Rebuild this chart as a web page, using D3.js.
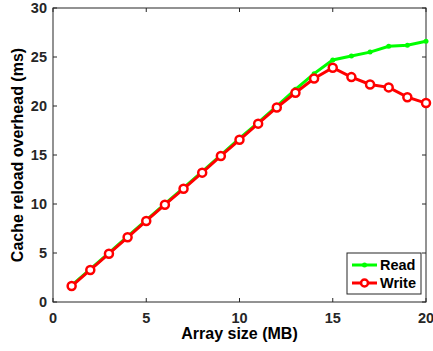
<!DOCTYPE html>
<html>
<head>
<meta charset="utf-8">
<script src="https://cdn.jsdelivr.net/npm/d3@7"></script>
<style>
  body { margin: 0; background: #fff; }
  svg { display: block; font-family: "Liberation Sans", Arial, Helvetica, sans-serif; }
</style>
</head>
<body>
<div id="chart"></div>
<script>
const sizes = [1, 2, 3, 4, 5, 6, 7, 8, 9, 10, 11, 12, 13, 14, 15, 16, 17, 18, 19, 20];
const readValues = [1.7, 3.35, 5.0, 6.7, 8.35, 10.0, 11.65, 13.3, 15.0, 16.7, 18.3, 20.0, 21.7, 23.3, 24.7, 25.1, 25.5, 26.1, 26.2, 26.6];
const writeValues = [1.63, 3.27, 4.93, 6.6, 8.27, 9.93, 11.55, 13.2, 14.9, 16.55, 18.2, 19.85, 21.35, 22.8, 23.9, 22.95, 22.2, 21.9, 20.9, 20.3];
const xTicks = [0, 5, 10, 15, 20];
const yTicks = [0, 5, 10, 15, 20, 25, 30];
const seriesNames = ['Read', 'Write'];

const width = 433;
const height = 351;
const margin = { top: 8, right: 7, bottom: 49, left: 53 };
const axisColor = '#262626';

const svg = d3.select('#chart')
  .append('svg')
  .attr('width', width)
  .attr('height', height);

const x = d3.scaleLinear()
  .domain([0, 20])
  .range([margin.left, width - margin.right]);

const y = d3.scaleLinear()
  .domain([0, 30])
  .range([height - margin.bottom, margin.top]);

// box + ticks on all four sides
svg.append('rect')
  .attr('x', x(0))
  .attr('y', y(30))
  .attr('width', x(20) - x(0))
  .attr('height', y(0) - y(30))
  .attr('fill', 'none')
  .attr('stroke', axisColor)
  .attr('stroke-width', 1);

const tickLen = 4;
svg.append('g')
  .selectAll('line')
  .data(xTicks)
  .join('line')
  .attr('x1', d => x(d)).attr('x2', d => x(d))
  .attr('y1', y(0)).attr('y2', y(0) - tickLen)
  .attr('stroke', axisColor);
svg.append('g')
  .selectAll('line')
  .data(xTicks)
  .join('line')
  .attr('x1', d => x(d)).attr('x2', d => x(d))
  .attr('y1', y(30)).attr('y2', y(30) + tickLen)
  .attr('stroke', axisColor);
svg.append('g')
  .selectAll('line')
  .data(yTicks)
  .join('line')
  .attr('x1', x(0)).attr('x2', x(0) + tickLen)
  .attr('y1', d => y(d)).attr('y2', d => y(d))
  .attr('stroke', axisColor);
svg.append('g')
  .selectAll('line')
  .data(yTicks)
  .join('line')
  .attr('x1', x(20)).attr('x2', x(20) - tickLen)
  .attr('y1', d => y(d)).attr('y2', d => y(d))
  .attr('stroke', axisColor);

svg.append('g')
  .selectAll('text')
  .data(xTicks)
  .join('text')
  .attr('x', d => x(d))
  .attr('y', y(0) + 21)
  .attr('text-anchor', 'middle')
  .attr('fill', axisColor)
  .style('font-size', '14.5px')
  .style('font-weight', 'bold')
  .text(d => d);

svg.append('g')
  .selectAll('text')
  .data(yTicks)
  .join('text')
  .attr('x', x(0) - 6)
  .attr('y', d => y(d) + 5)
  .attr('text-anchor', 'end')
  .attr('fill', axisColor)
  .style('font-size', '14.5px')
  .style('font-weight', 'bold')
  .text(d => d);

svg.append('text')
  .attr('x', (x(0) + x(20)) / 2)
  .attr('y', 339)
  .attr('text-anchor', 'middle')
  .attr('fill', '#000')
  .style('font-size', '16px')
  .style('font-weight', 'bold')
  .text('Array size (MB)');

svg.append('text')
  .attr('transform', `translate(23, ${(y(0) + y(30)) / 2}) rotate(-90)`)
  .attr('text-anchor', 'middle')
  .attr('fill', '#000')
  .style('font-size', '16px')
  .style('font-weight', 'bold')
  .text('Cache reload overhead (ms)');

const readData = sizes.map((s, i) => ({ s, v: readValues[i] }));
const writeData = sizes.map((s, i) => ({ s, v: writeValues[i] }));

const line = d3.line()
  .x(d => x(d.s))
  .y(d => y(d.v));

svg.append('path')
  .datum(readData)
  .attr('fill', 'none')
  .attr('stroke', '#00ff00')
  .attr('stroke-width', 3)
  .attr('d', line);

svg.append('g')
  .selectAll('circle')
  .data(readData)
  .join('circle')
  .attr('cx', d => x(d.s))
  .attr('cy', d => y(d.v))
  .attr('r', 2.5)
  .attr('fill', '#00ff00');

svg.append('path')
  .datum(writeData)
  .attr('fill', 'none')
  .attr('stroke', '#ff0000')
  .attr('stroke-width', 3)
  .attr('d', line);

svg.append('g')
  .selectAll('circle')
  .data(writeData)
  .join('circle')
  .attr('cx', d => x(d.s))
  .attr('cy', d => y(d.v))
  .attr('r', 4)
  .attr('fill', '#fff')
  .attr('stroke', '#ff0000')
  .attr('stroke-width', 2.5);

// legend
const legend = svg.append('g').attr('transform', 'translate(347, 253)');
legend.append('rect')
  .attr('width', 74)
  .attr('height', 41)
  .attr('fill', '#fff')
  .attr('stroke', axisColor)
  .attr('stroke-width', 1);

const colors = ['#00ff00', '#ff0000'];
seriesNames.forEach((name, i) => {
  const ly = 12 + i * 18;
  legend.append('line')
    .attr('x1', 5).attr('x2', 30)
    .attr('y1', ly).attr('y2', ly)
    .attr('stroke', colors[i])
    .attr('stroke-width', 3);
  if (i === 0) {
    legend.append('circle')
      .attr('cx', 17.5).attr('cy', ly).attr('r', 2.5)
      .attr('fill', colors[i]);
  } else {
    legend.append('circle')
      .attr('cx', 17.5).attr('cy', ly).attr('r', 3.5)
      .attr('fill', '#fff')
      .attr('stroke', colors[i])
      .attr('stroke-width', 2.5);
  }
  legend.append('text')
    .attr('x', 33)
    .attr('y', ly + 5)
    .attr('fill', '#000')
    .style('font-size', '14.5px')
    .style('font-weight', 'bold')
    .text(name);
});
</script>
</body>
</html>
